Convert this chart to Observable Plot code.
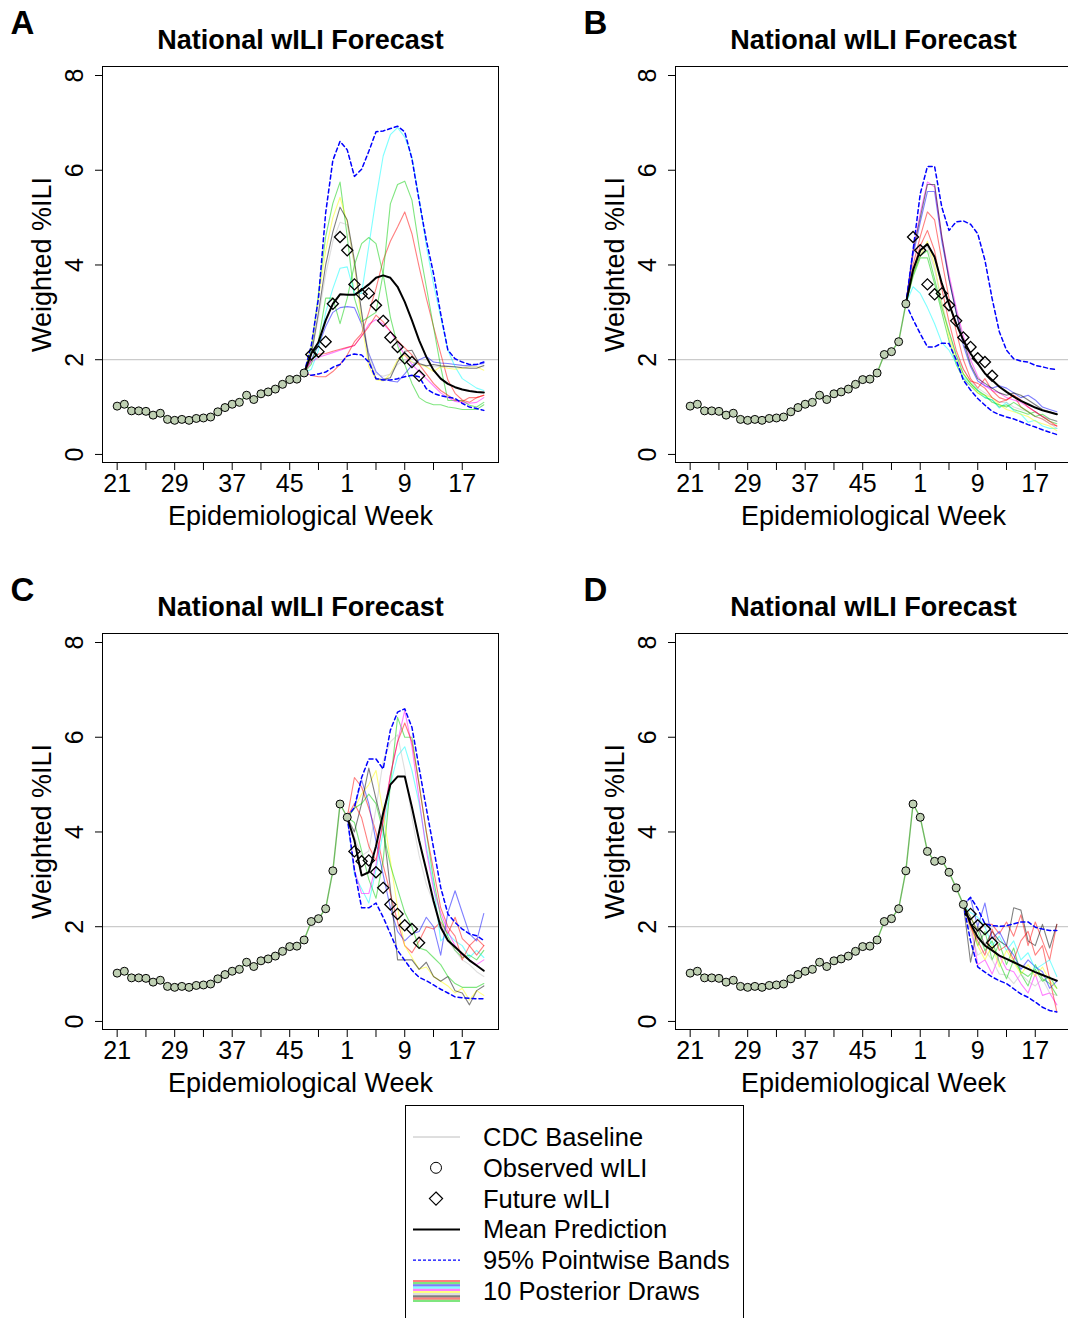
<!DOCTYPE html>
<html><head><meta charset="utf-8">
<script src="https://cdn.jsdelivr.net/npm/d3@7"></script>
<script src="https://cdn.jsdelivr.net/npm/@observablehq/plot@0.6"></script>
<style>
html,body{margin:0;padding:0;background:#fff;overflow:hidden}
#root{position:relative;width:1068px;height:1318px;overflow:hidden;font-family:"Liberation Sans",Arial,sans-serif}
.panel{position:absolute;width:534px;height:566px}
.panel svg{max-width:none !important}
</style></head><body><div id="root"></div>
<script>
// ---------- data ----------
// observed national wILI, epi week 21 (index 0) .. week 11 (index 42)
const truth = [1.02,1.06,0.92,0.92,0.91,0.83,0.87,0.74,0.72,0.74,0.72,0.76,0.77,0.79,0.90,0.99,1.06,1.10,1.25,1.16,1.28,1.32,1.38,1.48,1.58,1.59,1.72,2.11,2.17,2.38,3.18,4.59,4.31,3.59,3.38,3.40,3.15,2.82,2.47,2.27,2.03,1.95,1.66];
const weekMajorIdx = [0,8,16,24,32,40,48];
const weekMajorLabels = ["21","29","37","45","1","9","17"];
const weekMinorIdx = [4,12,20,28,36,44];
const yTicks = [0,2,4,6,8];
const cdcBaseline = 2.0;
const drawColors = ["#FF0000","#00CD00","#0000FF","#00FFFF","#FF00FF","#FFFF00","#BEBEBE","#000000","#FF0000","#00CD00"];
const legendLabels = ["CDC Baseline","Observed wILI","Future wILI","Mean Prediction","95% Pointwise Bands","10 Posterior Draws"];

// Panel A: observed through index 26
const nObsA = 27;
const meanA  = [2.13,2.37,2.83,3.18,3.38,3.37,3.37,3.47,3.59,3.73,3.78,3.73,3.54,3.22,2.83,2.41,2.06,1.78,1.60,1.49,1.42,1.37,1.34,1.32,1.31];
const upperA = [2.30,3.30,5.10,6.21,6.61,6.43,5.87,6.02,6.40,6.81,6.83,6.88,6.93,6.81,6.24,5.36,4.52,3.82,2.97,2.20,2.02,1.95,1.90,1.90,1.95];
const lowerA = [1.67,1.70,1.74,1.84,1.90,2.08,2.12,2.10,1.95,1.60,1.57,1.57,1.60,1.64,1.67,1.64,1.39,1.29,1.24,1.21,1.18,1.08,1.00,0.97,0.93];
const drawsA = [
  [1.67,1.64,1.64,1.75,1.90,2.10,2.38,2.55,3.00,3.50,4.10,4.50,4.80,5.12,4.66,3.96,3.30,2.70,2.13,1.57,1.29,1.15,1.10,1.20,1.25],
  [2.20,3.40,4.60,5.30,5.75,4.60,3.30,2.80,2.90,3.00,3.82,5.29,5.70,5.77,5.37,4.38,3.54,2.69,1.85,1.14,1.14,1.14,1.04,1.00,1.10],
  [2.00,2.30,2.70,3.00,3.10,3.12,3.10,2.75,2.13,1.75,1.60,1.55,1.53,1.70,1.88,2.00,2.07,1.95,1.93,1.92,1.90,1.88,1.87,1.90,1.92],
  [1.80,2.20,3.00,3.50,3.93,3.96,3.40,3.40,4.40,5.40,6.30,6.75,6.90,6.70,6.28,5.40,4.40,3.60,2.90,2.20,1.85,1.60,1.50,1.40,1.35],
  [1.95,2.05,2.10,2.15,2.20,2.25,2.30,2.50,2.75,2.85,2.75,2.60,2.35,2.10,1.90,1.75,1.60,1.45,1.30,1.20,1.12,1.10,1.08,1.10,1.20],
  [2.30,3.30,4.30,5.00,5.43,4.90,4.00,2.80,1.85,1.58,1.55,1.70,2.00,2.10,1.95,1.90,1.85,1.75,1.85,1.82,1.80,1.82,1.85,1.85,1.78],
  [2.10,2.90,3.80,4.50,4.90,4.85,4.00,3.00,2.10,1.70,1.65,1.70,1.90,2.00,1.95,1.90,1.88,1.85,1.85,1.85,1.84,1.84,1.85,1.85,1.85],
  [2.10,3.00,4.00,4.70,5.22,4.95,4.10,3.00,2.00,1.60,1.58,1.62,1.95,2.18,2.20,1.92,1.87,1.90,1.87,1.86,1.85,1.83,1.82,1.82,1.88],
  [2.00,2.12,2.13,2.18,2.22,2.26,2.30,2.50,2.70,2.94,2.80,2.60,2.40,2.25,2.10,1.90,1.70,1.50,1.35,1.25,1.15,1.12,1.20,1.20,1.25],
  [1.90,2.40,3.30,3.30,2.76,3.30,4.00,4.45,4.58,4.45,3.80,2.90,2.30,1.90,1.50,1.20,1.10,1.05,1.05,1.00,0.98,0.95,0.95,0.95,1.05]
];

// Panel B: observed through index 30
const nObsB = 31;
const meanB  = [3.89,4.31,4.44,4.17,3.61,3.18,2.76,2.41,2.13,1.92,1.71,1.57,1.43,1.32,1.22,1.13,1.06,0.99,0.93,0.89,0.85];
const upperB = [4.31,5.50,6.08,6.08,5.22,4.73,4.91,4.93,4.86,4.66,4.10,3.29,2.59,2.20,2.02,1.97,1.95,1.88,1.85,1.81,1.79];
const lowerB = [2.85,2.55,2.27,2.27,2.35,2.34,2.00,1.57,1.36,1.18,1.04,0.91,0.84,0.79,0.75,0.69,0.63,0.58,0.52,0.47,0.42];
const drawsB = [
  [4.00,4.60,5.12,4.95,4.10,3.30,2.60,2.00,1.60,1.40,1.60,1.35,1.20,1.15,1.25,1.00,0.90,0.80,0.75,0.65,0.60],
  [3.75,4.15,4.15,3.60,3.00,2.40,1.90,1.60,1.45,1.30,1.20,1.15,1.00,1.05,0.95,0.90,0.85,0.90,0.80,0.70,0.65],
  [4.20,4.90,5.55,5.55,4.50,3.70,3.00,2.30,1.85,1.55,1.45,1.40,1.45,1.40,1.30,1.20,1.25,1.15,1.00,0.95,0.90],
  [3.54,3.40,3.10,2.76,2.36,2.20,1.93,1.63,1.50,1.35,1.20,1.15,0.98,1.10,0.92,0.85,0.68,0.72,0.60,0.55,0.55],
  [4.30,5.10,5.75,5.65,4.60,3.80,3.10,2.50,2.00,1.65,1.45,1.35,1.30,1.20,1.15,1.10,1.00,0.90,0.80,0.75,0.70],
  [3.80,4.20,4.50,4.00,3.20,2.50,2.00,1.70,1.50,1.30,1.25,1.20,1.05,0.95,0.90,0.85,0.80,0.70,0.65,0.60,0.50],
  [3.80,4.20,4.40,3.90,3.20,2.60,2.10,1.80,1.55,1.40,1.30,1.20,1.10,1.10,1.00,0.95,0.90,0.80,0.75,0.65,0.55],
  [4.30,5.00,5.70,5.70,4.60,3.70,3.00,2.40,1.90,1.60,1.50,1.40,1.30,1.25,1.30,1.25,1.15,1.05,0.95,0.90,0.85],
  [3.90,4.40,4.73,4.30,3.50,2.80,2.20,1.80,1.55,1.50,1.40,1.20,1.10,1.15,1.25,1.15,1.00,0.90,0.80,0.70,0.60],
  [3.80,4.20,4.30,3.70,3.10,2.60,2.10,1.70,1.50,1.35,1.25,1.10,1.05,1.00,1.10,1.00,0.90,0.80,0.85,0.75,0.70]
];

// Panel C: observed through index 32
const nObsC = 33;
const meanC  = [3.82,3.08,3.15,3.70,4.40,5.00,5.17,5.17,4.52,3.82,3.19,2.55,1.99,1.71,1.57,1.43,1.29,1.18,1.07];
const upperC = [4.52,5.15,5.54,5.54,5.33,6.15,6.53,6.60,6.21,5.35,4.50,3.67,2.83,2.27,2.09,1.95,1.85,1.81,1.71];
const lowerC = [3.20,2.40,2.40,2.50,2.20,1.85,1.50,1.29,1.08,0.93,0.86,0.77,0.68,0.60,0.52,0.50,0.49,0.48,0.48];
const drawsC = [
  [5.15,4.95,4.50,4.00,3.30,2.70,2.10,1.60,1.45,1.70,2.00,1.95,2.10,1.85,2.20,1.75,1.60,1.75,1.60],
  [4.20,3.60,3.00,2.60,3.40,5.00,6.42,6.00,6.00,5.00,4.00,3.00,2.20,1.80,1.50,1.35,1.40,1.30,1.50],
  [4.50,5.10,4.60,3.80,3.10,2.40,1.90,1.70,1.85,1.90,2.20,2.00,1.40,2.30,2.76,2.30,1.85,1.70,2.28],
  [3.10,2.80,2.50,3.20,4.00,5.00,5.60,5.80,5.30,4.60,3.70,2.90,1.70,1.85,1.70,1.60,1.35,1.50,1.35],
  [3.20,2.70,2.70,3.30,4.30,5.20,5.90,6.56,5.80,4.70,3.60,2.80,2.30,1.90,1.60,1.40,1.30,1.20,1.30],
  [4.50,4.80,5.00,5.30,4.40,3.40,2.40,1.60,1.35,1.10,1.15,0.95,0.85,0.75,0.60,0.70,0.45,0.65,0.55],
  [3.90,3.50,3.60,4.50,5.50,5.90,6.05,5.30,4.30,3.50,2.90,2.50,2.10,1.70,1.50,1.30,1.20,1.05,0.95],
  [4.00,4.60,5.35,4.70,4.10,2.80,1.30,1.30,1.30,1.10,1.25,0.95,0.85,0.95,0.65,0.60,0.35,0.65,0.75],
  [4.60,4.30,3.70,3.40,4.20,5.20,5.90,6.30,5.90,5.00,4.00,3.20,2.40,2.00,1.80,1.30,1.60,1.40,1.60],
  [4.50,4.60,4.80,4.60,4.00,3.30,2.80,2.30,2.00,1.55,1.50,1.35,1.20,0.95,0.80,0.72,0.72,0.72,0.80]
];

// Panel D: observed through index 38
const nObsD = 39;
const meanD  = [2.06,1.78,1.60,1.50,1.39,1.32,1.25,1.18,1.11,1.04,0.98,0.92,0.86];
const upperD = [2.62,2.38,2.06,2.02,2.01,2.02,2.06,2.10,2.10,1.99,1.95,1.92,1.92];
const lowerD = [1.70,1.15,1.04,0.94,0.86,0.80,0.69,0.58,0.51,0.41,0.30,0.23,0.20];
const drawsD = [
  [2.20,1.90,2.05,2.05,1.85,2.10,1.80,2.25,1.60,2.10,1.70,1.30,2.05],
  [2.10,1.60,1.90,1.30,1.65,1.20,1.55,1.00,0.75,1.20,0.90,0.80,0.55],
  [2.60,2.00,2.50,1.75,1.90,1.60,1.40,1.10,1.30,1.15,1.05,0.70,0.85],
  [2.30,2.20,2.00,1.60,1.80,1.50,1.70,1.30,1.45,1.10,1.20,1.30,0.95],
  [2.10,1.20,1.30,1.00,1.40,1.10,1.05,0.80,0.60,1.00,0.55,0.60,0.35],
  [2.00,1.60,1.30,1.60,1.15,1.50,1.25,1.00,1.20,0.95,1.15,0.85,0.70],
  [1.90,1.40,1.50,1.30,1.00,0.98,0.80,1.00,0.85,0.75,0.90,0.60,0.55],
  [1.25,2.00,1.60,1.90,1.70,1.60,2.40,2.35,1.70,1.60,2.05,1.55,2.05],
  [2.00,1.70,1.40,1.95,1.50,1.60,1.30,1.70,1.90,1.40,1.60,0.90,0.20],
  [2.20,1.90,1.50,1.70,1.25,0.90,1.30,1.05,0.95,1.10,0.85,0.95,0.70]
];

// ---------- drawing ----------
const FONT = '"Liberation Sans", Arial, Helvetica, sans-serif';

function makePanel(letter, nObs, mean, upper, lower, draws) {
  const obs = truth.slice(0, nObs).map((v, i) => ({x: i, y: v}));
  const fut = truth.slice(nObs).map((v, j) => ({x: nObs + j, y: v}));
  const fromNow = arr => [{x: nObs - 1, y: truth[nObs - 1]}].concat(arr.map((v, j) => ({x: nObs + j, y: v})));
  const drawMarks = draws.map((fv, k) =>
    Plot.line(fromNow(fv), {x: "x", y: "y", stroke: drawColors[k], strokeOpacity: 0.5, strokeWidth: 1.1}));
  return Plot.plot({
    width: 534, height: 566,
    marginLeft: 102, marginRight: 36, marginTop: 66, marginBottom: 104,
    x: {domain: [-2.04, 53.04]},
    y: {domain: [-0.17, 8.19]},
    style: {fontFamily: FONT, background: "transparent", overflow: "visible", color: "black", maxWidth: "none"},
    marks: [
      Plot.ruleY([cdcBaseline], {stroke: "#BEBEBE", strokeWidth: 1}),
      Plot.line(obs, {x: "x", y: "y", stroke: "#5fb24f", strokeWidth: 1.4, strokeOpacity: 0.9}),
      ...drawMarks,
      Plot.line(fromNow(upper), {x: "x", y: "y", stroke: "#0000FF", strokeWidth: 1.5, strokeDasharray: "4,3"}),
      Plot.line(fromNow(lower), {x: "x", y: "y", stroke: "#0000FF", strokeWidth: 1.5, strokeDasharray: "4,3"}),
      Plot.line(fromNow(mean), {x: "x", y: "y", stroke: "black", strokeWidth: 2}),
      Plot.dot(obs, {x: "x", y: "y", r: 4, stroke: "black", fill: "#bfd0b3", strokeWidth: 1}),
      Plot.dot(fut, {x: "x", y: "y", r: 5, symbol: "diamond2", stroke: "black", fill: "none", strokeWidth: 1.3}),
      Plot.frame({stroke: "black", strokeWidth: 1}),
      Plot.axisX(weekMajorIdx, {tickSize: 8, tickPadding: 4, fontSize: 25, label: null,
        tickFormat: d => weekMajorLabels[weekMajorIdx.indexOf(d)]}),
      Plot.axisX(weekMinorIdx, {tickSize: 8, label: null, tickFormat: () => ""}),
      Plot.axisY(yTicks, {tickSize: 7, tickPadding: 13, tickRotate: -90, fontSize: 25, label: null}),
      Plot.text(["Weighted %ILI"], {text: d => d, frameAnchor: "left", dx: -52, rotate: -90,
        lineAnchor: "bottom", textAnchor: "middle", fontSize: 27}),
      Plot.text(["Epidemiological Week"], {text: d => d, frameAnchor: "bottom", dy: 62,
        lineAnchor: "bottom", textAnchor: "middle", fontSize: 27}),
      Plot.text(["National wILI Forecast"], {text: d => d, frameAnchor: "top", dy: -37,
        lineAnchor: "top", textAnchor: "middle", fontSize: 27, fontWeight: "bold"}),
      Plot.text([letter], {text: d => d, frameAnchor: "top-left", dx: -92, dy: -56,
        lineAnchor: "top", textAnchor: "start", fontSize: 33, fontWeight: "bold"})
    ]
  });
}

const root = document.getElementById("root");
const panels = [
  {el: makePanel("A", nObsA, meanA, upperA, lowerA, drawsA), left: 0, top: 0},
  {el: makePanel("B", nObsB, meanB, upperB, lowerB, drawsB), left: 573, top: 0},
  {el: makePanel("C", nObsC, meanC, upperC, lowerC, drawsC), left: 0, top: 567},
  {el: makePanel("D", nObsD, meanD, upperD, lowerD, drawsD), left: 573, top: 567}
];
for (const p of panels) {
  const wrap = document.createElement("div");
  wrap.className = "panel";
  wrap.style.left = p.left + "px";
  wrap.style.top = p.top + "px";
  p.el.style.maxWidth = "none";
  p.el.setAttribute("width", 534);
  p.el.setAttribute("height", 566);
  wrap.appendChild(p.el);
  root.appendChild(wrap);
}

// ---------- legend ----------
const lg = d3.create("svg").attr("width", 1068).attr("height", 1318)
  .style("position", "absolute").style("left", "0px").style("top", "0px")
  .style("font-family", FONT).style("pointer-events", "none");
lg.append("rect").attr("x", 405.5).attr("y", 1105.5).attr("width", 338).attr("height", 240)
  .attr("fill", "white").attr("stroke", "black").attr("stroke-width", 1);
const rowY = i => 1137 + i * 30.8;
legendLabels.forEach((t, i) => {
  lg.append("text").attr("x", 483).attr("y", rowY(i) + 9).attr("font-size", 25.5).attr("fill", "black").text(t);
});
lg.append("line").attr("x1", 413).attr("x2", 460).attr("y1", rowY(0)).attr("y2", rowY(0)).attr("stroke", "#BEBEBE");
lg.append("circle").attr("cx", 436).attr("cy", rowY(1)).attr("r", 5.5).attr("fill", "none").attr("stroke", "black");
lg.append("path").attr("d", d3.symbol(d3.symbolDiamond2, 110)()).attr("transform", `translate(436,${rowY(2)})`)
  .attr("fill", "none").attr("stroke", "black").attr("stroke-width", 1.2);
lg.append("line").attr("x1", 413).attr("x2", 460).attr("y1", rowY(3)).attr("y2", rowY(3)).attr("stroke", "black").attr("stroke-width", 2);
lg.append("line").attr("x1", 413).attr("x2", 460).attr("y1", rowY(4)).attr("y2", rowY(4)).attr("stroke", "#0000FF")
  .attr("stroke-width", 1.3).attr("stroke-dasharray", "3,2");
drawColors.forEach((c, k) => {
  const y = rowY(5) - 10 + k * 2.2;
  lg.append("line").attr("x1", 413).attr("x2", 460).attr("y1", y).attr("y2", y)
    .attr("stroke", c).attr("stroke-opacity", 0.5).attr("stroke-width", 2.2);
});
root.appendChild(lg.node());
</script></body></html>
